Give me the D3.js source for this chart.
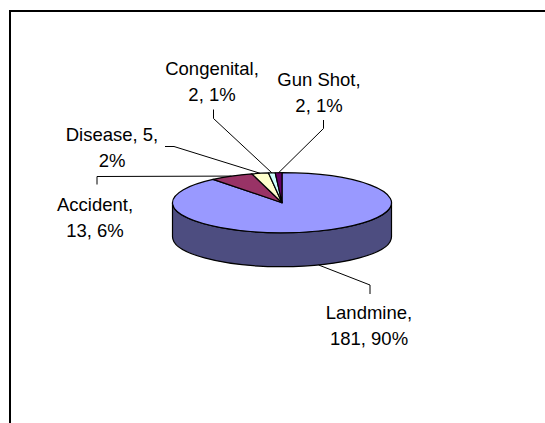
<!DOCTYPE html>
<html>
<head>
<meta charset="utf-8">
<script src="https://cdn.jsdelivr.net/npm/d3@7"></script>
<style>
  html, body { margin: 0; padding: 0; background: #fff; }
  svg { display: block; }
  text { font-family: "Liberation Sans", Arial, sans-serif; font-size: 18.5px; fill: #000; }
</style>
</head>
<body>
<svg id="chart" width="545" height="423"></svg>
<script>
// ---- data ----
const categories = ["Landmine", "Accident", "Disease", "Congenital", "Gun Shot"];
const values = [181, 13, 5, 2, 2];
const percentLabels = ["90%", "6%", "2%", "1%", "1%"];
const topColors = ["#9999FF", "#993366", "#FFFFCC", "#CCFFFF", "#660066"];
const sideColors = ["#4D4D80", "#4D1A33", "#808066", "#668080", "#330033"];

// ---- layout ----
const cx = 282, cy = 202.7, rx = 109.5, ry = 30, depth = 34;
// label layout: text lines, centre x, first baseline, elbow & tick points
const labelLayout = {
  "Landmine":   { lines: ["Landmine,", "181, 90%"], x: 369, y: 319, lh: 26,
                  path: [[370, 285], [370, 294]], front: true },
  "Accident":   { lines: ["Accident,", "13, 6%"], x: 95, y: 210.5, lh: 26,
                  path: [[97, 176.5], [97, 184.5]] },
  "Disease":    { lines: ["Disease, 5,", "2%"], x: 112, y: 140.5, lh: 26,
                  path: [[174, 146.5], [165, 146.5]] },
  "Congenital": { lines: ["Congenital,", "2, 1%"], x: 212, y: 74.5, lh: 26,
                  path: [[213.5, 118.5], [213.5, 109.5]] },
  "Gun Shot":   { lines: ["Gun Shot,", "2, 1%"], x: 319, y: 86, lh: 26,
                  path: [[323.5, 128.5], [323.5, 120]] }
};

const svg = d3.select("#chart");

// frame
svg.append("rect")
  .attr("x", 10).attr("y", 11).attr("width", 600).attr("height", 500)
  .attr("fill", "none").attr("stroke", "#000").attr("stroke-width", 2);

const pie = d3.pie().sort(null).value(d => d.value).startAngle(0).endAngle(2 * Math.PI);
const data = categories.map((c, i) => ({ name: c, value: values[i], pct: percentLabels[i], i }));
const arcs = pie(data);

const pt = (a, dy = 0) => [cx + rx * Math.sin(a), cy - ry * Math.cos(a) + dy];

// side walls (front half visible: angles pi/2 .. 3pi/2)
const gSide = svg.append("g");
arcs.forEach(d => {
  const a0 = Math.max(d.startAngle, Math.PI / 2);
  const a1 = Math.min(d.endAngle, 3 * Math.PI / 2);
  if (a1 <= a0) return;
  const p0 = pt(a0), p1 = pt(a1), q1 = pt(a1, depth), q0 = pt(a0, depth);
  const large = (a1 - a0) > Math.PI ? 1 : 0;
  const path = `M${p0}A${rx},${ry} 0 ${large} 1 ${p1}L${q1}A${rx},${ry} 0 ${large} 0 ${q0}Z`;
  gSide.append("path")
    .attr("d", path)
    .attr("fill", sideColors[d.data.i])
    .attr("stroke", "#000").attr("stroke-width", 1.2)
    .attr("stroke-linejoin", "round");
});

// top face via d3.arc, squashed vertically
const arcGen = d3.arc().innerRadius(0).outerRadius(rx);
const gTop = svg.append("g")
  .attr("transform", `translate(${cx},${cy}) scale(1,${ry / rx})`);
gTop.selectAll("path")
  .data(arcs)
  .join("path")
  .attr("d", arcGen)
  .attr("fill", d => topColors[d.data.i])
  .attr("stroke", "#000")
  .attr("stroke-width", 1.2)
  .attr("stroke-linejoin", "round")
  .attr("vector-effect", "non-scaling-stroke");

// leader lines and labels
const gLab = svg.append("g");
arcs.forEach(d => {
  const L = labelLayout[d.data.name];
  const mid = (d.startAngle + d.endAngle) / 2;
  const start = pt(mid, L.front ? depth : 0);
  const pts = [start].concat(L.path);
  gLab.append("path")
    .attr("d", d3.line()(pts))
    .attr("fill", "none")
    .attr("stroke", "#000")
    .attr("stroke-width", 1);
  const t = gLab.append("text").attr("text-anchor", "middle");
  L.lines.forEach((s, k) => {
    t.append("tspan").attr("x", L.x).attr("y", L.y + k * L.lh).text(s);
  });
});
</script>
</body>
</html>
